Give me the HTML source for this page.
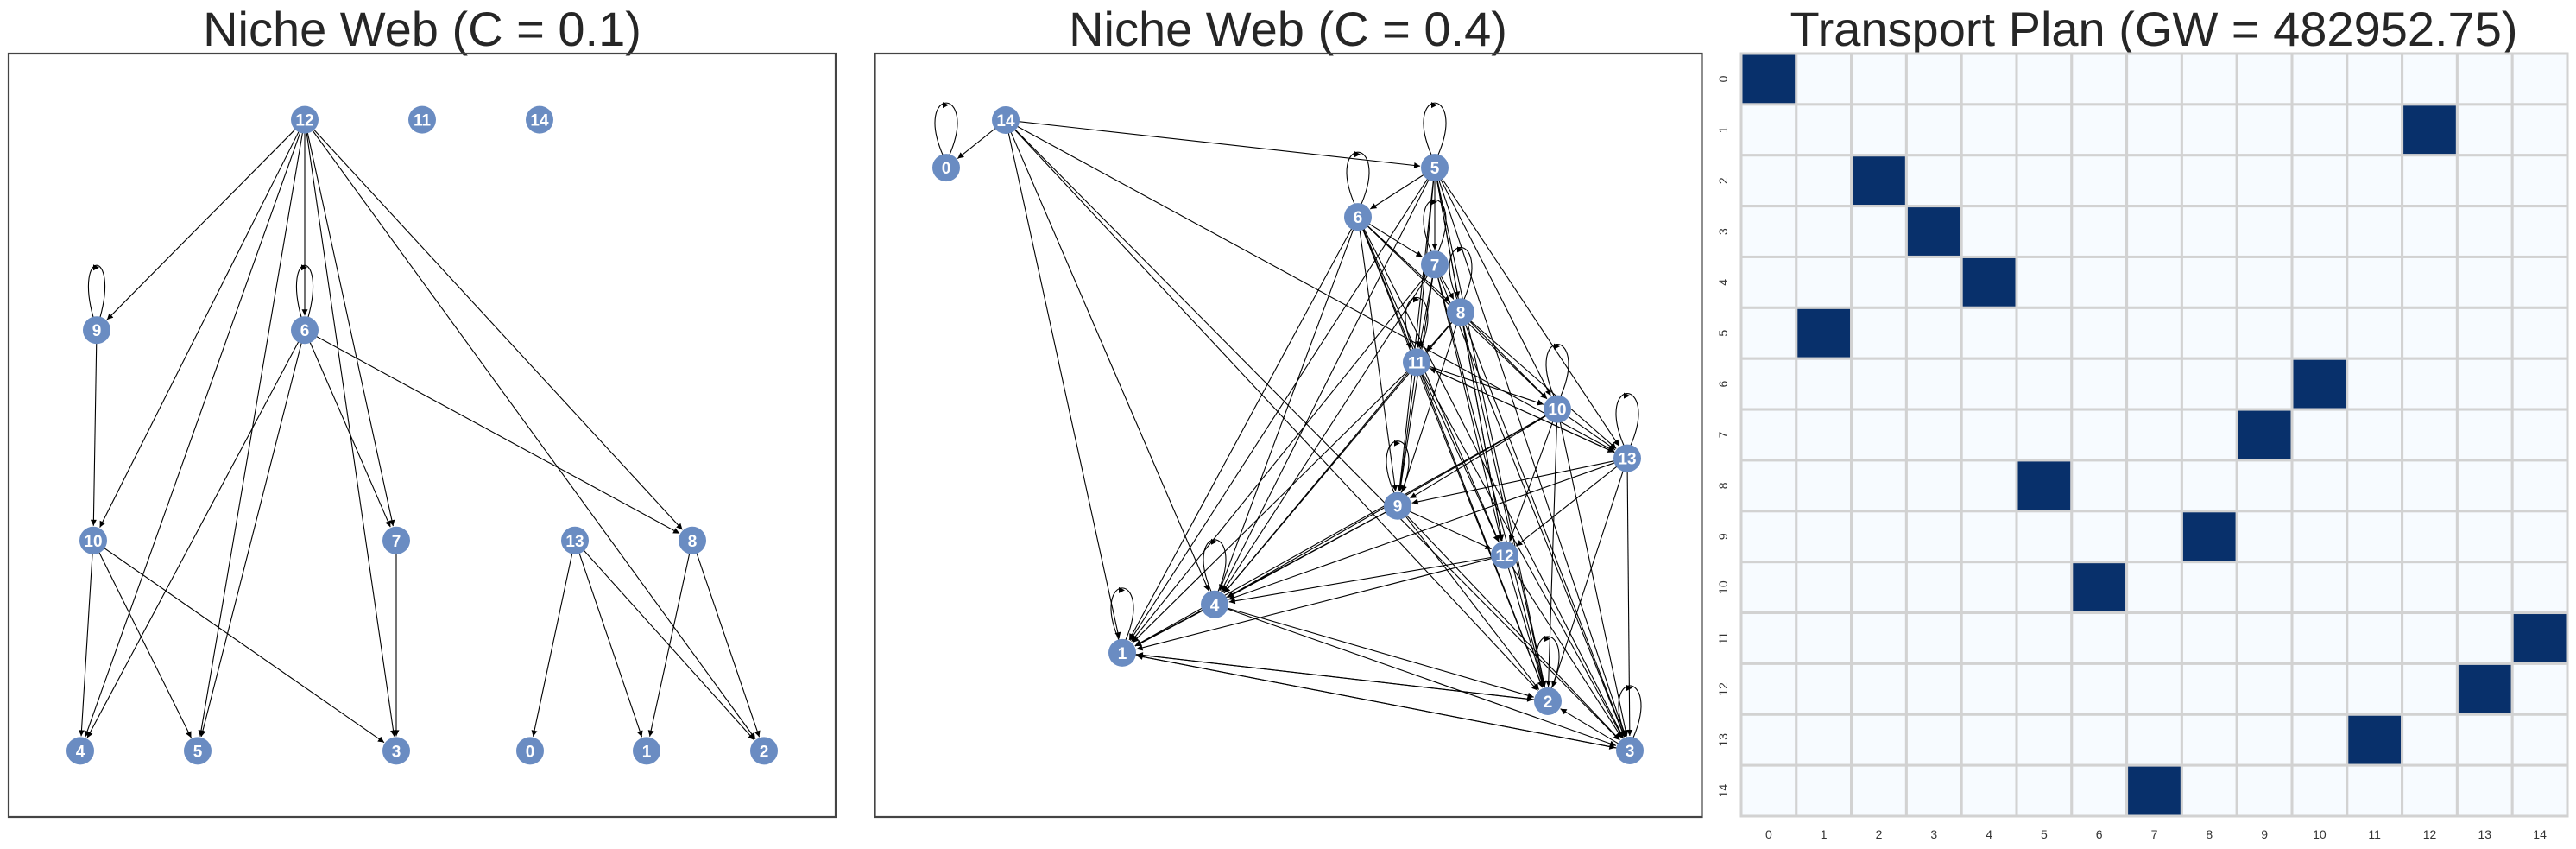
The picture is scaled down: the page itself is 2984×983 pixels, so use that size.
<!DOCTYPE html>
<html><head><meta charset="utf-8"><style>
html,body{margin:0;padding:0;background:#fff;}
svg{display:block;font-family:"Liberation Sans",sans-serif;}
</style></head><body>
<svg id="root" width="2984" height="983" viewBox="0 0 2984 983">
<defs>
<marker id="arr" viewBox="0 0 10 10" refX="10" refY="5" markerWidth="9" markerHeight="7" markerUnits="userSpaceOnUse" orient="auto"><path d="M0,0 L10,5 L0,10 z" fill="#000"/></marker>
</defs>
<text x="489" y="53" font-size="56" fill="#262626" text-anchor="middle">Niche Web (C = 0.1)</text>
<text x="1492" y="53" font-size="56" fill="#262626" text-anchor="middle">Niche Web (C = 0.4)</text>
<text x="2495" y="53" font-size="56" fill="#262626" text-anchor="middle">Transport Plan (GW = 482952.75)</text>
<rect x="10" y="62" width="958" height="884" fill="none" stroke="#444" stroke-width="2.2"/>
<rect x="1013.5" y="62" width="958" height="884" fill="none" stroke="#444" stroke-width="2.2"/>
<g id="g1"></g>
<g id="g2"></g>
<g id="hm"></g>
</svg>
<script>
// Graph 1 (C = 0.1)
const nodes1 = {12:[353,140],11:[489,140],14:[625,140],9:[112,388],6:[353,388],10:[108,636],7:[459,636],13:[666,636],8:[802,636],4:[93,884],5:[229,884],3:[459,884],0:[614,884],1:[749,884],2:[885,884]};
const edges1 = [[12,9],[12,10],[12,4],[12,5],[12,6],[12,3],[12,7],[12,8],[12,2],[9,9],[9,10],[6,6],[6,4],[6,5],[6,7],[6,8],[10,4],[10,5],[10,3],[7,3],[13,0],[13,1],[13,2],[8,1],[8,2]];
// Graph 2 (C = 0.4)
const nodes2 = {14:[1165,145],0:[1096,203],5:[1662,203],6:[1573,263],7:[1662,321],8:[1692,379],11:[1641,440],10:[1804,497],13:[1885,557],9:[1619,615],12:[1743,675],4:[1407,735],1:[1300,794],2:[1793,853],3:[1888,913]};
const edges2 = [[0,0],[5,5],[6,6],[7,7],[8,8],[11,11],[10,10],[13,13],[9,9],[4,4],[1,1],[2,2],[3,3],
[14,0],[14,5],[14,1],[14,4],[14,2],[14,3],[14,13],
[5,6],[5,7],[5,8],[5,11],[5,9],[5,10],[5,13],[5,12],[5,2],[5,3],[5,4],[5,1],
[6,7],[6,8],[6,11],[6,10],[6,9],[6,4],[6,1],[6,12],[6,2],[6,3],
[7,8],[7,11],[7,9],[7,4],[7,1],[7,12],[7,2],[7,3],
[8,11],[8,10],[8,9],[8,4],[8,12],[8,2],[8,3],[8,13],
[11,10],[11,9],[11,4],[11,1],[11,12],[11,2],[11,3],[11,13],
[10,9],[10,4],[10,1],[10,12],[10,2],[10,3],[10,13],
[13,9],[13,4],[13,12],[13,3],[13,2],[13,11],
[9,4],[9,1],[9,12],[9,2],[9,3],
[12,4],[12,1],[12,2],[12,3],
[4,1],[4,2],[4,3],[1,2],[1,3],[2,1],[3,1],[3,2]];
// Heatmap: row i maps to column plan[i]
const rowLabels = ["0","1","2","3","4","5","6","7","8","9","10","11","12","13","14"];
const colLabels = ["0","1","2","3","4","5","6","7","8","9","10","11","12","13","14"];
const plan = [0,12,2,3,4,1,10,9,5,8,6,14,13,11,7];

const NS="http://www.w3.org/2000/svg";
function mk(t,a,p){const e=document.createElementNS(NS,t);for(const k in a)e.setAttribute(k,a[k]);p.appendChild(e);return e;}
const R=16;
const sy1=y=>62+(y-62)*0.9822;
const sy2=y=>139+(y-145)*0.9505;
function drawGraph(g,nodesRaw,edges,sy,lw){
  const nodes={};
  Object.keys(nodesRaw).forEach(k=>{nodes[k]=[nodesRaw[k][0],sy(nodesRaw[k][1])];});
  const eg=mk('g',{},g);
  edges.forEach(([s,t])=>{
    const [x1,y1]=nodes[s],[x2,y2]=nodes[t];
    if(s===t){
      const p=mk('path',{d:`M${x1-4},${y1-R+1} C${x1-lw},${y1-95} ${x1+lw},${y1-95} ${x1+4},${y1-R+1}`,fill:'none',stroke:'#000','stroke-width':1.1},eg);
      
      
      mk('path',{d:`M${x1-4},${y1-76} l7,3.5 l-7,3.5 z`,fill:'#000'},eg);
      return;
    }
    const dx=x2-x1,dy=y2-y1,L=Math.hypot(dx,dy),ux=dx/L,uy=dy/L;
    const l=mk('line',{x1:x1+ux*R*0.6,y1:y1+uy*R*0.6,x2:x2-ux*(R+1),y2:y2-uy*(R+1),stroke:'#000','stroke-width':1.1,'marker-end':'url(#arr)'},eg);
    
    
  });
  Object.keys(nodes).forEach(k=>{
    const [x,y]=nodes[k];
    const c=mk('circle',{cx:x,cy:y,r:R,fill:'#6a8cc2'},g);
    
    
    const t=mk('text',{x:x,y:y+7,'font-size':19,'font-weight':'bold',fill:'#fff','text-anchor':'middle'},g);
    t.textContent=k;
    
    
  });
}
drawGraph(document.getElementById('g1'),nodes1,edges1,sy1,26);
drawGraph(document.getElementById('g2'),nodes2,edges2,sy2,38);

// heatmap
const hm=document.getElementById('hm');
const X0=2017,X1=2974,Y0=62,Y1=945,n=15;
const cw=(X1-X0)/n,ch=(Y1-Y0)/n;
const xs=i=>X0+i*cw, ys=j=>Y0+j*ch;
for(let r=0;r<n;r++)for(let c=0;c<n;c++){
  const rc=mk('rect',{x:xs(c),y:ys(r),width:cw,height:ch,fill:plan[r]===c?'#08306b':'#f7fbff',stroke:'#d2d2d2','stroke-width':3},hm);
  
  
}
rowLabels.forEach((lab,i)=>{
  const cy=ys(i)+ch/2;
  const t=mk('text',{x:1996,y:cy,'font-size':14,fill:'#333','text-anchor':'middle',transform:`rotate(-90 1996 ${cy}) translate(0 5)`},hm);
  t.textContent=lab;
  
  
});
colLabels.forEach((lab,i)=>{
  const t=mk('text',{x:xs(i)+cw/2,y:971,'font-size':14,fill:'#333','text-anchor':'middle'},hm);
  t.textContent=lab;
  
  
});
</script>
</body></html>
